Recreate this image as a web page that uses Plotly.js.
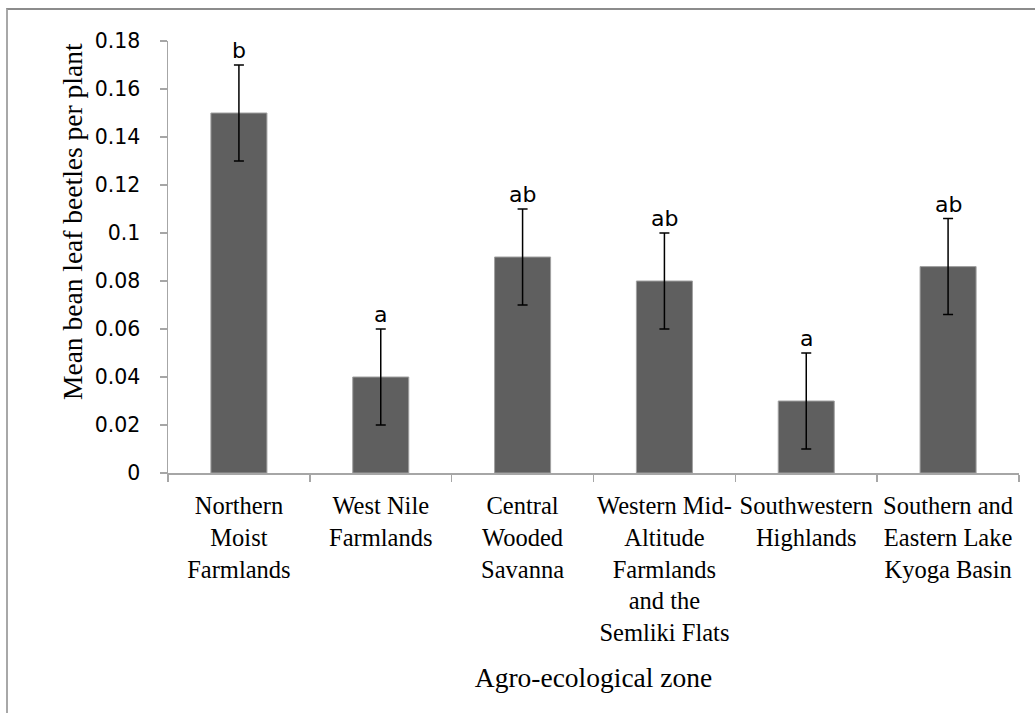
<!DOCTYPE html>
<html>
<head>
<meta charset="utf-8">
<script src="https://cdn.plot.ly/plotly-3.0.1.min.js"></script>
<style>
html,body{margin:0;padding:0;background:#fff;}
#wrap{position:relative;width:1035px;height:713px;overflow:hidden;}
#chart{position:absolute;left:0;top:0;width:1035px;height:713px;}
#frame{position:absolute;left:6px;top:8px;width:1200px;height:900px;border-top:2px solid #8c8c8c;border-left:2px solid #a8a8a8;pointer-events:none;}
</style>
</head>
<body>
<div id="wrap"><div id="chart"></div><div id="frame"></div></div>
<script>
var categories = ["Northern Moist Farmlands","West Nile Farmlands","Central Wooded Savanna","Western Mid-Altitude Farmlands and the Semliki Flats","Southwestern Highlands","Southern and Eastern Lake Kyoga Basin"];
var categoryLabels = ["Northern<br>Moist<br>Farmlands","West Nile<br>Farmlands","Central<br>Wooded<br>Savanna","Western Mid-<br>Altitude<br>Farmlands<br>and the<br>Semliki Flats","Southwestern<br>Highlands","Southern and<br>Eastern Lake<br>Kyoga Basin"];
var meanBeetles = [0.15, 0.04, 0.09, 0.08, 0.03, 0.086];
var errorValues = [0.02, 0.02, 0.02, 0.02, 0.02, 0.02];
var groupLetters = ["b","a","ab","ab","a","ab"];
var yTickVals = [0,0.02,0.04,0.06,0.08,0.1,0.12,0.14,0.16,0.18];
var yTickText = ["0","0.02","0.04","0.06","0.08","0.1","0.12","0.14","0.16","0.18"];

var trace = {
  type: "bar",
  x: categories,
  y: meanBeetles,
  marker: {color: "#5f5f5f", line: {color: "#a0a0a0", width: 1}},
  error_y: {type: "data", array: errorValues, visible: true, color: "#000000", thickness: 1.5, width: 5},
  hoverinfo: "skip"
};

var annotations = categories.map(function(c, i){
  return {
    x: c, y: meanBeetles[i] + errorValues[i], xref: "x", yref: "y",
    text: groupLetters[i], showarrow: false, yanchor: "bottom", yshift: 0,
    font: {family: "DejaVu Sans", size: 22, color: "#000"}
  };
});
annotations.push({
  xref: "paper", yref: "paper", x: -0.1128, y: 0.581,
  text: "Mean bean leaf beetles per plant", showarrow: false, textangle: -90,
  xanchor: "center", yanchor: "middle",
  font: {family: "Liberation Serif", size: 27.5, color: "#000"}
});

var layout = {
  width: 1035, height: 713,
  margin: {l: 168, r: 16, t: 41, b: 240},
  paper_bgcolor: "rgba(0,0,0,0)",
  plot_bgcolor: "#ffffff",
  bargap: 0.605,
  showlegend: false,
  xaxis: {
    type: "category",
    tickvals: categories, ticktext: categoryLabels,
    tickson: "boundaries",
    ticks: "outside", ticklen: 7, tickcolor: "#a6a6a6", tickwidth: 1.5,
    showline: true, linecolor: "#a6a6a6", linewidth: 1.5,
    showgrid: false, zeroline: false,
    tickangle: 0,
    ticklabelstandoff: 10,
    tickfont: {family: "Liberation Serif", size: 24.5, color: "#000"},
    title: {text: "Agro-ecological zone", font: {family: "Liberation Serif", size: 27.5, color: "#000"}, standoff: 22}
  },
  yaxis: {
    range: [0, 0.18],
    tickvals: yTickVals, ticktext: yTickText,
    ticks: "outside", ticklen: 7, tickcolor: "#a6a6a6", tickwidth: 1.5,
    showline: true, linecolor: "#a6a6a6", linewidth: 1.5,
    showgrid: false, zeroline: false,
    ticklabelstandoff: 15,
    tickfont: {family: "DejaVu Sans", size: 20.5, color: "#000"}
  },
  annotations: annotations
};

Plotly.newPlot("chart", [trace], layout, {displayModeBar: false, staticPlot: true});
</script>
</body>
</html>
